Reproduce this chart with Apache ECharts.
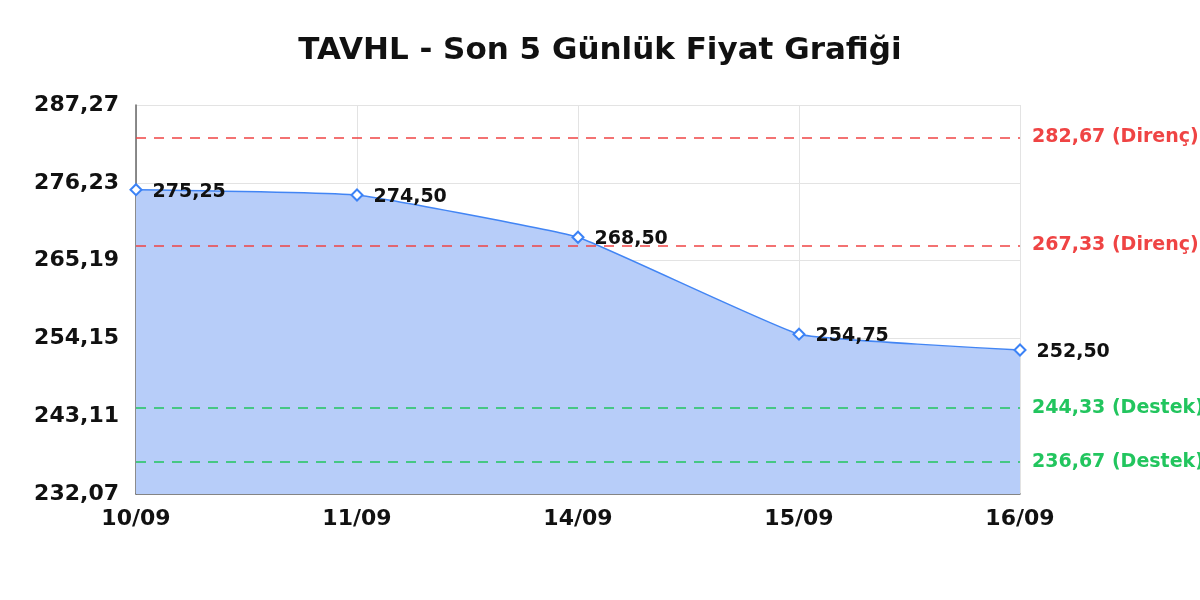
<!DOCTYPE html>
<html>
<head>
<meta charset="utf-8">
<script src="https://cdn.jsdelivr.net/npm/echarts@6/dist/echarts.min.js"></script>
<style>html,body{margin:0;padding:0;background:#fff;}#c{width:1200px;height:600px;}</style>
</head>
<body>
<div id="c"></div>
<script>
const categories = ['10/09', '11/09', '14/09', '15/09', '16/09'];
const prices = [275.25, 274.50, 268.50, 254.75, 252.50];
const resistance = [282.67, 267.33];
const support = [244.33, 236.67];
const yMin = 232.07, yMax = 287.27, yStep = 11.04;

const fmt = v => Number(v).toFixed(2).replace('.', ',');
const FONT = 'DejaVu Sans';

const markData = [];
resistance.forEach(v => markData.push({
  yAxis: v,
  lineStyle: { color: '#ef4444', type: [10, 8], width: 1.5 },
  label: { formatter: fmt(v) + ' (Direnç)', color: '#ef4444' }
}));
support.forEach(v => markData.push({
  yAxis: v,
  lineStyle: { color: '#22c55e', type: [10, 8], width: 1.5 },
  label: { formatter: fmt(v) + ' (Destek)', color: '#22c55e' }
}));

const chart = echarts.init(document.getElementById('c'));
chart.setOption({
  backgroundColor: '#fff',
  animation: false,
  textStyle: { fontFamily: FONT },
  title: {
    text: 'TAVHL - Son 5 Günlük Fiyat Grafiği',
    left: 'center', top: 30,
    textStyle: { fontFamily: FONT, fontWeight: 'bold', fontSize: 31, color: '#111' }
  },
  grid: { left: 136, right: 180, top: 105, bottom: 106, containLabel: false },
  xAxis: {
    type: 'category', data: categories, boundaryGap: false,
    axisLine: { lineStyle: { color: '#666', width: 1.5 } },
    axisTick: { show: false },
    axisLabel: { fontFamily: FONT, fontWeight: 'bold', fontSize: 22, color: '#111', margin: 14 },
    splitLine: { show: true, lineStyle: { color: '#e3e3e3', width: 1 } }
  },
  yAxis: {
    type: 'value', min: yMin, max: yMax, interval: yStep,
    axisLine: { show: true, lineStyle: { color: '#666', width: 1.5 } },
    axisTick: { show: false },
    axisLabel: { fontFamily: FONT, fontWeight: 'bold', fontSize: 22, color: '#111', margin: 17, formatter: v => fmt(v) },
    splitLine: { show: true, lineStyle: { color: '#e3e3e3', width: 1 } }
  },
  series: [{
    type: 'line',
    data: prices,
    smooth: 0.1,
    symbol: 'diamond',
    symbolSize: 11,
    itemStyle: { color: '#fff', borderColor: '#3b82f6', borderWidth: 2 },
    lineStyle: { color: '#4285f4', width: 1.5 },
    areaStyle: { color: '#b7cdf9', opacity: 1 },
    label: {
      show: true, position: 'right', distance: 10, offset: [0, 2],
      fontFamily: FONT, fontWeight: 'bold', fontSize: 19, color: '#111',
      formatter: p => fmt(p.value)
    },
    markLine: {
      silent: true, symbol: 'none',
      label: { show: true, position: 'end', distance: 12, fontFamily: FONT, fontWeight: 'bold', fontSize: 19 },
      data: markData
    }
  }]
});
</script>
</body>
</html>
